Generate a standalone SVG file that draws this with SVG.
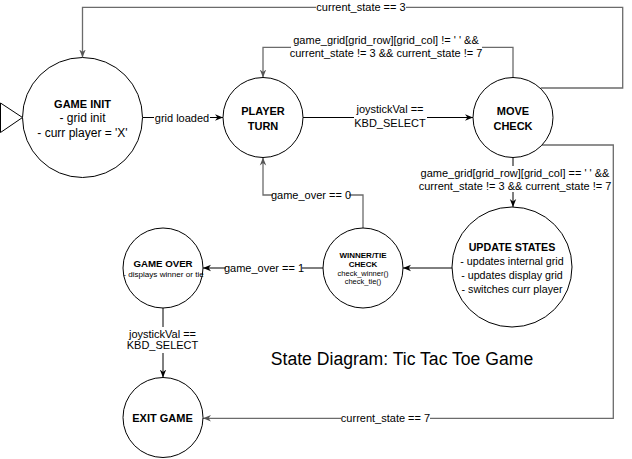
<svg xmlns="http://www.w3.org/2000/svg" width="632" height="459" viewBox="0 0 632 459">
<style>
.node{fill:#fff;stroke:#000;stroke-width:1}
.t{font-family:"Liberation Sans",Arial,sans-serif;fill:#000;text-anchor:middle}
.b{font-weight:bold}
.lbl{font-family:"Liberation Sans",Arial,sans-serif;font-size:11px;fill:#000;text-anchor:middle}
.bg{fill:#fff;stroke:none}
.ek{fill:none;stroke:#000;stroke-width:1;marker-end:url(#ak)}
.eg{fill:none;stroke:#6b6b6b;stroke-width:1.3;marker-end:url(#ag)}
</style>
<defs>
<marker id="ak" viewBox="0 0 10 10" refX="10" refY="5" markerWidth="8" markerHeight="8" markerUnits="userSpaceOnUse" orient="auto">
<path d="M0,1 L10,5 L0,9 L3,5 z" fill="#000"/>
</marker>
<marker id="ag" viewBox="0 0 10 10" refX="10" refY="5" markerWidth="8" markerHeight="8" markerUnits="userSpaceOnUse" orient="auto">
<path d="M0,1 L10,5 L0,9 L3,5 z" fill="#555"/>
</marker>
</defs>
<rect x="0" y="0" width="632" height="459" fill="#fff"/>

<g id="connectors">
<path class="ek" d="M142.5,117.5 H223"/>
<path class="ek" d="M303,117.5 H473"/>
<path class="eg" d="M540.7,88 H622.7 V7.3 H82.5 V57.5"/>
<path class="eg" d="M513,77.5 V47.3 H263 V77.5"/>
<path class="ek" d="M513,157.5 V207"/>
<path class="eg" d="M542,145 H613.3 V418.3 H203"/>
<path class="ek" d="M452,268 H403"/>
<path class="eg" d="M363,228 V195 H263 V157.5"/>
<path class="ek" d="M323,268 H203"/>
<path class="ek" d="M163,308 V377.5"/>

<rect class="bg" x="154" y="111" width="56" height="13"/>
<text class="lbl" x="182" y="121.5">grid loaded</text>

<rect class="bg" x="354" y="103" width="73" height="27"/>
<text class="lbl" x="390" y="113">joystickVal ==</text>
<text class="lbl" x="390" y="126.5">KBD_SELECT</text>

<rect class="bg" x="316" y="1" width="90" height="13"/>
<text class="lbl" x="361" y="11.3">current_state == 3</text>

<rect class="bg" x="291" y="34" width="191" height="26"/>
<text class="lbl" x="386" y="44">game_grid[grid_row][grid_col] != ' ' &amp;&amp;</text>
<text class="lbl" x="386" y="57">current_state != 3 &amp;&amp; current_state != 7</text>

<rect class="bg" x="419" y="166" width="192" height="26"/>
<text class="lbl" x="515" y="176.5">game_grid[grid_row][grid_col] == ' ' &amp;&amp;</text>
<text class="lbl" x="515" y="189.5">current_state != 3 &amp;&amp; current_state != 7</text>

<rect class="bg" x="341" y="412" width="89" height="13"/>
<text class="lbl" x="385.5" y="422">current_state == 7</text>

<rect class="bg" x="273" y="189" width="76" height="13"/>
<text class="lbl" x="311" y="199">game_over == 0</text>

<rect class="bg" x="226" y="262" width="76" height="13"/>
<text class="lbl" x="264" y="272">game_over == 1</text>

<rect class="bg" x="126" y="327" width="74" height="26"/>
<text class="lbl" x="162.5" y="337.5">joystickVal ==</text>
<text class="lbl" x="162.5" y="349">KBD_SELECT</text>
</g>

<g id="start">
<polygon points="0.5,103 22.5,117.5 0.5,132.5" fill="#fff" stroke="#000" stroke-width="1"/>
</g>

<g id="game-init">
<circle class="node" cx="82.5" cy="117.5" r="60"/>
<text class="t b" x="82.5" y="107.5" font-size="11">GAME INIT</text>
<text class="t" x="82.5" y="122" font-size="12">- grid init</text>
<text class="t" x="82.5" y="136.5" font-size="12">- curr player = 'X'</text>
</g>

<g id="player-turn">
<circle class="node" cx="263" cy="117.5" r="40"/>
<text class="t b" x="263" y="114.5" font-size="11">PLAYER</text>
<text class="t b" x="263" y="129.5" font-size="11">TURN</text>
</g>

<g id="move-check">
<circle class="node" cx="513" cy="117.5" r="40"/>
<text class="t b" x="513" y="114.5" font-size="11">MOVE</text>
<text class="t b" x="513" y="129.5" font-size="11">CHECK</text>
</g>

<g id="update-states">
<circle class="node" cx="512" cy="267" r="60"/>
<text class="t b" x="512" y="250.5" font-size="10.7">UPDATE STATES</text>
<text class="t" x="512" y="264.5" font-size="10.7">- updates internal grid</text>
<text class="t" x="512" y="278.5" font-size="10.7">- updates display grid</text>
<text class="t" x="512" y="292.5" font-size="10.7">- switches curr player</text>
</g>

<g id="winner-tie-check">
<circle class="node" cx="363" cy="268" r="40"/>
<text class="t b" x="363" y="257.5" font-size="8">WINNER/TIE</text>
<text class="t b" x="363" y="266.5" font-size="8">CHECK</text>
<text class="t" x="363" y="275.5" font-size="7.5">check_winner()</text>
<text class="t" x="363" y="283.5" font-size="7.5">check_tie()</text>
</g>

<g id="game-over">
<circle class="node" cx="163" cy="268" r="40"/>
<text class="t b" x="163" y="267.3" font-size="9.7">GAME OVER</text>
<text class="t" x="163.5" y="276.5" font-size="8.1">- displays winner or tie</text>
</g>

<g id="exit-game">
<circle class="node" cx="163" cy="417.5" r="40"/>
<text class="t b" x="162.5" y="422" font-size="11">EXIT GAME</text>
</g>

<g id="title">
<text class="t" x="402" y="365" font-size="17.6">State Diagram: Tic Tac Toe Game</text>
</g>
</svg>
